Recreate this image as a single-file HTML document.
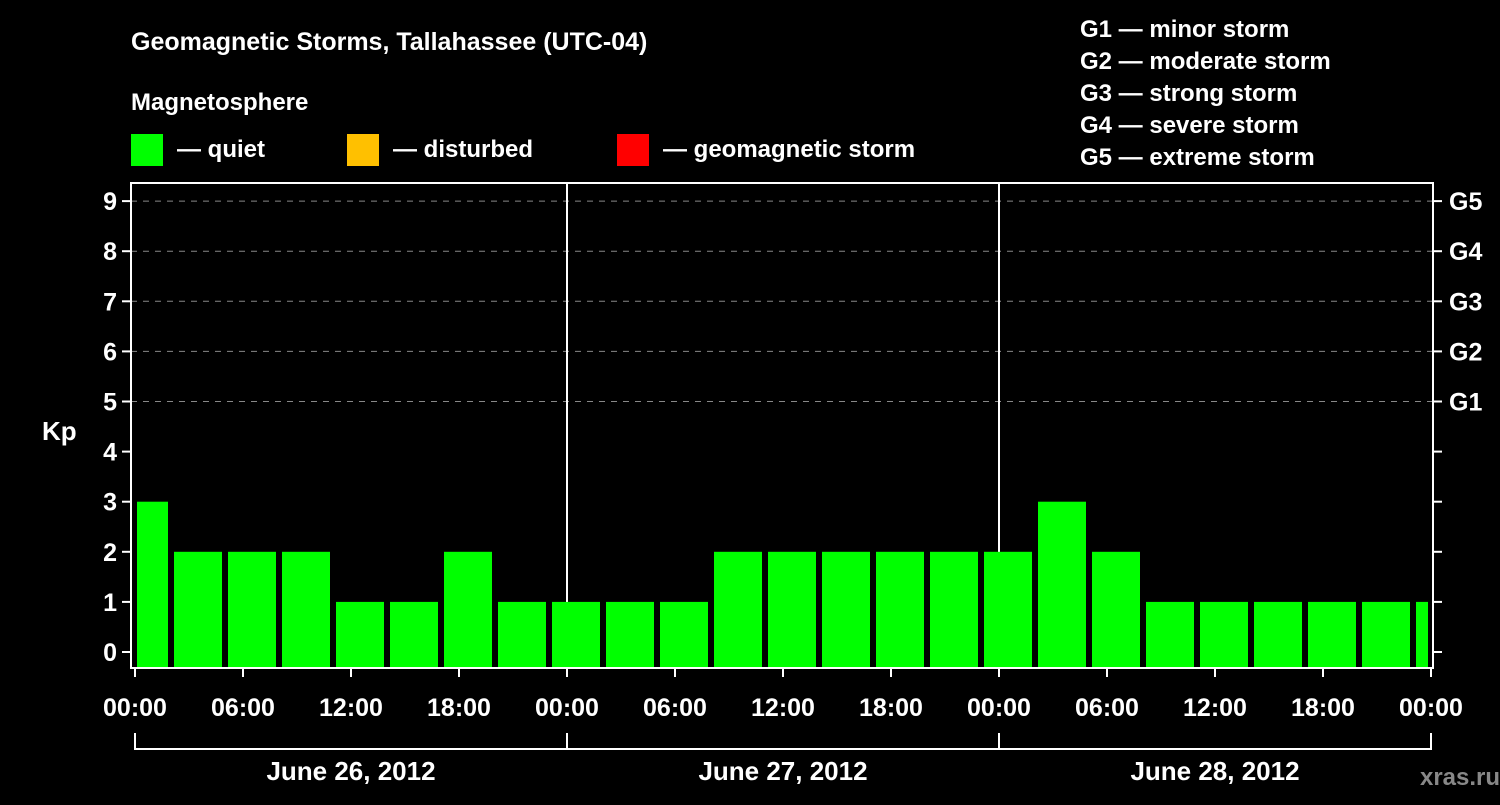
<!DOCTYPE html>
<html><head><meta charset="utf-8"><style>
body{margin:0;background:#000;width:1500px;height:800px;overflow:hidden}
svg text{font-family:"Liberation Sans",sans-serif;font-weight:bold;fill:#fff}
</style></head><body>
<svg id="c" width="1500" height="800">
<text x="131" y="50" font-size="25">Geomagnetic Storms, Tallahassee (UTC-04)</text>
<text x="131" y="110" font-size="24">Magnetosphere</text>
<g><rect x="131" y="134" width="32" height="32" fill="#00ff00"/><text x="177" y="157" font-size="24">— quiet</text></g>
<g><rect x="347" y="134" width="32" height="32" fill="#ffc000"/><text x="393" y="157" font-size="24">— disturbed</text></g>
<g><rect x="617" y="134" width="32" height="32" fill="#ff0000"/><text x="663" y="157" font-size="24">— geomagnetic storm</text></g>
<g font-size="24">
<text x="1080" y="37">G1 — minor storm</text><text x="1080" y="69">G2 — moderate storm</text><text x="1080" y="101">G3 — strong storm</text><text x="1080" y="133">G4 — severe storm</text><text x="1080" y="165">G5 — extreme storm</text></g>
<text x="42" y="440" font-size="26">Kp</text>
<text x="1460" y="785" font-size="24" fill="#888" style="fill:#888" text-anchor="middle">xras.ru</text>
<g id="g"></g>
</svg>
<script>
const kpValues=[3,2,2,2,1,1,2,1,1,1,1,2,2,2,2,2,2,3,2,1,1,1,1,1,1];
const yTicks=[0,1,2,3,4,5,6,7,8,9];
const gLabels=["G1","G2","G3","G4","G5"];
const hourLabels=["00:00","06:00","12:00","18:00","00:00","06:00","12:00","18:00","00:00","06:00","12:00","18:00","00:00"];
const dayLabels=["June 26, 2012","June 27, 2012","June 28, 2012"];
const NS="http://www.w3.org/2000/svg",g=document.getElementById('g');
const L=131,R=1433,T=183,B=668;
const x=h=>135+h*18; // hours from start
const y=v=>652-v*50.1;
function el(t,a,txt){const e=document.createElementNS(NS,t);for(const k in a)e.setAttribute(k,a[k]);if(txt!==undefined)e.textContent=txt;g.appendChild(e);return e;}
yTicks.forEach(v=>{
 if(v>=5){const l=el('line',{x1:L,x2:R,y1:y(v),y2:y(v),stroke:'#888','stroke-dasharray':'6,6','stroke-width':1});
 }
 const t=el('line',{x1:L-9,x2:L,y1:y(v),y2:y(v),stroke:'#fff','stroke-width':2});
 
 const t2=el('line',{x1:R,x2:R+9,y1:y(v),y2:y(v),stroke:'#fff','stroke-width':2});
 
 const tx=el('text',{x:L-14,y:y(v)+9,'font-size':25,'text-anchor':'end'},v);
 
});
gLabels.forEach((s,i)=>{const tx=el('text',{x:R+16,y:y(5+i)+9,'font-size':25},s);
 });
[1,2].forEach(d=>{const l=el('line',{x1:x(24*d),x2:x(24*d),y1:T,y2:B,stroke:'#fff','stroke-width':2});
 });
kpValues.forEach((v,i)=>{
 let a=x(-1+3*i)+3,b=x(2+3*i)-3;a=Math.max(a,L+6);b=Math.min(b,R-5);
 const c=v>=5?'#ff0000':v>=4?'#ffc000':'#00ff00';
 const r=el('rect',{x:a,y:y(v),width:b-a,height:B-y(v),fill:c});
 
});
const f=el('rect',{x:L,y:T,width:R-L,height:B-T,fill:'none',stroke:'#fff','stroke-width':2});

hourLabels.forEach((s,i)=>{const xx=x(6*i);
 const t=el('line',{x1:xx,x2:xx,y1:B,y2:B+9,stroke:'#fff','stroke-width':2});
 
 const tx=el('text',{x:xx,y:716,'font-size':25,'text-anchor':'middle'},s);
 });
const br=el('path',{d:`M${x(0)},733V749H${x(72)}V733 M${x(24)},733V749 M${x(48)},733V749`,stroke:'#fff','stroke-width':2,fill:'none'});

dayLabels.forEach((s,i)=>{const tx=el('text',{x:x(24*i+12),y:780,'font-size':26,'text-anchor':'middle'},s);
 });
</script>
</body></html>
